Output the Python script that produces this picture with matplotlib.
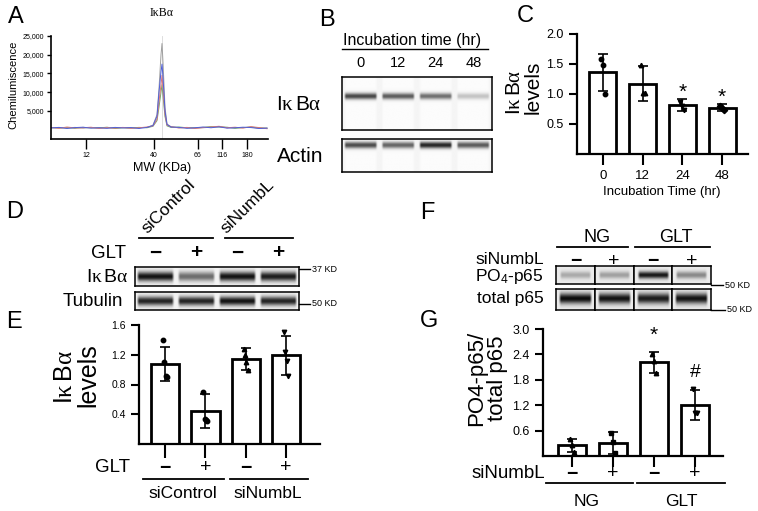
import numpy as np
import matplotlib
matplotlib.use('Agg')
import matplotlib.pyplot as plt

plt.rcParams['font.family'] = ['Liberation Sans', 'DejaVu Sans']
plt.rcParams['mathtext.fontset'] = 'custom'
plt.rcParams['mathtext.rm'] = 'Liberation Sans'
plt.rcParams['mathtext.it'] = 'Liberation Serif'
plt.rcParams['mathtext.bf'] = 'Liberation Sans:bold'

W, H = 758, 511
IKB = r'I$\kappa\,$B$\alpha$'

# ---- A: capillary electropherogram ----
a_pos = [0, 8, 16, 24, 32, 40, 48, 56, 64, 72, 80, 88, 96, 102, 106, 108, 110, 111, 112,
         114, 116, 120, 128, 136, 144, 152, 160, 168, 176, 184, 192, 200, 208, 216]
a_gray = [550, 500, 450, 600, 400, 550, 500, 450, 500, 550, 400, 550, 600, 1200, 4000, 11000, 20000,
          23000, 18000, 6000, 1500, 750, 500, 550, 450, 500, 650, 800, 550, 500, 550, 650, 400, 450]
a_green = [500, 450, 550, 350, 600, 500, 450, 650, 300, 500, 450, 600, 500, 900, 2400, 6000, 10000,
           12000, 9000, 3500, 1000, 600, 700, 500, 450, 600, 800, 700, 650, 350, 550, 700, 450, 350]
a_red = [600, 350, 700, 450, 500, 650, 300, 550, 400, 600, 350, 500, 700, 1000, 2800, 7500, 12000,
         14500, 11000, 4000, 1200, 800, 450, 600, 300, 550, 700, 900, 500, 650, 400, 800, 550, 250]
a_blue = [450, 600, 300, 550, 650, 400, 500, 350, 600, 450, 550, 300, 600, 1100, 3600, 10000, 15500,
          17500, 14000, 5000, 1400, 700, 600, 350, 500, 700, 500, 750, 400, 500, 650, 550, 300, 400]
a_mw_labels = ['12', '40', '66', '116', '180']
a_mw_pos = [35, 103, 147, 171, 196]
a_yticks = [5000, 10000, 15000, 20000, 25000]
a_peak = 111

# ---- B: capillary blots ----
b_times = ['0', '12', '24', '48']
b_ikb = [0.72, 0.64, 0.56, 0.22]
b_actin = [0.70, 0.60, 0.85, 0.64]

# ---- C ----
c_labels = ['0', '12', '24', '48']
c_means = [1.36, 1.17, 0.81, 0.77]
c_sd = [0.31, 0.29, 0.10, 0.06]
c_points = [[1.58, 1.49, 1.00], [1.48, 1.02, 1.02], [0.86, 0.80, 0.73], [0.80, 0.76, 0.73]]
c_markers = ['o', '^', 'v', 'D']
c_stars = ['', '', '*', '*']

# ---- D: western blots ----
d_groups = ['siControl', 'siNumbL']
d_glt = ['\u2212', '+', '\u2212', '+']
d_ikb = [0.92, 0.55, 0.92, 0.88]
d_tub = [0.85, 0.85, 0.92, 0.85]

# ---- E ----
e_means = [1.08, 0.44, 1.14, 1.19]
e_sd = [0.23, 0.23, 0.15, 0.26]
e_points = [[1.40, 1.10, 0.91, 0.90], [0.70, 0.33, 0.32, 0.31],
            [1.28, 1.20, 1.10, 0.99], [1.50, 1.24, 1.12, 0.92]]
e_markers = ['o', 'o', '^', 'v']

# ---- F ----
f_groups = ['NG', 'GLT']
f_sinumbl = ['\u2212', '+', '\u2212', '+']
f_po4 = [0.28, 0.32, 0.90, 0.42]
f_total = [0.95, 0.92, 0.88, 0.92]

# ---- G ----
g_means = [0.25, 0.31, 2.21, 1.21]
g_sd = [0.16, 0.26, 0.25, 0.36]
g_points = [[0.40, 0.25, 0.10], [0.55, 0.32, 0.06], [2.42, 2.24, 1.97], [1.58, 1.02, 1.02]]
g_markers = ['^', 's', '^', 'v']
g_marks = ['', '', '*', '#']

fig = plt.figure(figsize=(W / 100, H / 100), dpi=100)


def box(l, t, r, b):
    return fig.add_axes([l / W, 1 - b / H, (r - l) / W, (b - t) / H])


def txt(x, y, s, **kw):
    kw.setdefault('ha', 'center')
    kw.setdefault('va', 'center')
    fig.text(x / W, 1 - y / H, s, **kw)


def hline(x0, x1, y, lw=1.3):
    fig.add_artist(plt.Line2D([x0 / W, x1 / W], [1 - y / H, 1 - y / H], color='black', lw=lw))


def blot(ax, levels, band_y=0.5, band_h=0.15, fill=0.85, bg=0.96, stripes=False):
    n = len(levels)
    h, w = 80, 80 * n
    yy = np.linspace(0, 1, h)[:, None]
    xx = np.linspace(0, n, w, endpoint=False)[None, :] + 0.5 * n / w
    lane = np.clip(np.floor(xx).astype(int), 0, n - 1)
    frac = xx - lane
    xprof = np.clip((fill / 2 - np.abs(frac - 0.5)) / 0.06, 0, 1)
    yprof = np.exp(-((yy - band_y) / band_h) ** 2)
    amp = np.array(levels)[lane]
    back = np.full((h, w), bg)
    if stripes:
        back = back + 0.025 * xprof - 0.01
    img = back * (1 - amp * xprof * yprof)
    ax.imshow(img, cmap='gray', vmin=0, vmax=1, aspect='auto', interpolation='bilinear',
              extent=[0, n, 1, 0])
    ax.set_xticks([])
    ax.set_yticks([])
    for s in ax.spines.values():
        s.set_linewidth(1.1)


def bars(ax, means, sds, pts, markers, width):
    x = np.arange(len(means))
    ax.bar(x, means, width=width, color='white', edgecolor='black', linewidth=2.0, zorder=2)
    ax.errorbar(x, means, yerr=sds, fmt='none', ecolor='black', elinewidth=1.2,
                capsize=3.5, capthick=1.2, zorder=3)
    for i, (p, m) in enumerate(zip(pts, markers)):
        off = np.linspace(-0.05, 0.05, len(p))
        ax.plot(i + off, p, linestyle='none', marker=m, color='black', markersize=3.2, zorder=4)
    for side in ['top', 'right']:
        ax.spines[side].set_visible(False)
    for side in ['left', 'bottom']:
        ax.spines[side].set_linewidth(1.6)
    ax.tick_params(width=1.5, length=6)


# panel letters
for lab, (x, y) in zip('ABCDEFG', [(16, 17), (327, 20), (525, 16), (15, 212), (14, 322), (427, 213), (429, 321)]):
    txt(x, y, lab, fontsize=17)

# ---------- A ----------
axA = box(51, 36, 268, 139)
axA.axvline(a_peak, color='#d8d8d8', lw=0.6, zorder=0)
for vals, col in zip([a_gray, a_green, a_red, a_blue], ['#a0a0a0', '#70a870', '#e07878', '#5060d8']):
    axA.plot(a_pos, vals, color=col, lw=0.7)
axA.set_xlim(0, 217)
axA.set_ylim(-2500, 25000)
axA.set_xticks(a_mw_pos)
axA.set_xticklabels(a_mw_labels, fontsize=5)
axA.set_yticks(a_yticks)
axA.set_yticklabels(['{:,}'.format(v) for v in a_yticks], fontsize=5)
for side in ['top', 'right']:
    axA.spines[side].set_visible(False)
for side in ['left', 'bottom']:
    axA.spines[side].set_linewidth(1.2)
axA.tick_params(axis='x', length=7, width=1.0, pad=2)
axA.tick_params(axis='y', length=3, width=1.0, pad=2)
txt(162, 13, '\u0049\u03ba\u0042\u03b1', fontsize=8.5, family='Liberation Serif')
txt(162, 168, 'MW (KDa)', fontsize=9)
txt(13, 85, 'Chemilumiscence', fontsize=8, rotation=90)

# ---------- B ----------
txt(412, 40, 'Incubation time (hr)', fontsize=11.5)
hline(342, 488, 49, lw=1.0)
for i, t in enumerate(b_times):
    txt(342 + 150 * (i + 0.5) / 4, 63, t, fontsize=10.5)
axB1 = box(342, 77, 492, 130)
blot(axB1, b_ikb, band_y=0.36, band_h=0.06, fill=0.9, bg=0.97, stripes=True)
axB2 = box(342, 139, 492, 172)
blot(axB2, b_actin, band_y=0.18, band_h=0.1, fill=0.9, bg=0.97, stripes=True)
txt(299, 104, IKB, fontsize=15)
txt(300, 157, 'Actin', fontsize=15)

# ---------- C ----------
axC = box(577, 34, 748, 154)
bars(axC, c_means, c_sd, c_points, c_markers, 0.68)
axC.set_xlim(-0.655, 3.655)
axC.set_ylim(0, 2.0)
axC.set_yticks([0.5, 1.0, 1.5, 2.0])
axC.set_yticklabels(['0.5', '1.0', '1.5', '2.0'], fontsize=9)
axC.set_xticks(range(4))
axC.set_xticklabels(c_labels, fontsize=9.5)
axC.tick_params(axis='x', length=8)
for i, s in enumerate(c_stars):
    if s:
        axC.text(i, c_means[i] + c_sd[i] + 0.12, s, ha='center', va='center', fontsize=15)
txt(662, 192, 'Incubation Time (hr)', fontsize=9.5)
txt(515, 92, IKB, fontsize=15, rotation=90)
txt(533, 87, 'levels', fontsize=15, rotation=90)

# ---------- D ----------
lane_d = [135 + 164 * (i + 0.5) / 4 for i in range(4)]
for (x0, x1), g, ax0 in zip([(139, 213), (225, 293)], d_groups, [150, 229]):
    hline(x0, x1, 238)
    fig.text(ax0 / W, 1 - 236 / H, g, rotation=45, rotation_mode='anchor',
             ha='left', va='bottom', fontsize=12.5)
txt(108, 253, 'GLT', fontsize=13.5)
for x, s in zip(lane_d, d_glt):
    txt(x, 253, s, fontsize=15, fontweight='bold')
axD1 = box(135, 267, 299, 286)
blot(axD1, d_ikb, band_y=0.5, band_h=0.25, fill=0.92, bg=0.95)
axD2 = box(135, 292, 299, 310)
blot(axD2, d_tub, band_y=0.5, band_h=0.25, fill=0.92, bg=0.95)
txt(107, 277, IKB, fontsize=14)
txt(93, 301, 'Tubulin', fontsize=13.5)
hline(299, 310, 269, lw=1.0)
txt(312, 269, '37 KD', fontsize=6.5, ha='left')
hline(299, 310, 304, lw=1.0)
txt(312, 304, '50 KD', fontsize=6.5, ha='left')

# ---------- E ----------
axE = box(139, 325, 320, 444)
bars(axE, e_means, e_sd, e_points, e_markers, 0.7)
axE.set_xlim(-0.645, 3.84)
axE.set_ylim(0, 1.6)
axE.set_yticks([0.4, 0.8, 1.2, 1.6])
axE.set_yticklabels(['0.4', '0.8', '1.2', '1.6'], fontsize=7.5)
axE.set_xticks(range(4))
axE.set_xticklabels([])
axE.tick_params(axis='x', length=10)
txt(113, 468, 'GLT', fontsize=13.5)
lane_e = [165 + 40.3 * i for i in range(4)]
for x, s in zip(lane_e, d_glt):
    txt(x, 468, s, fontsize=14, fontweight='bold' if s != '+' else 'normal')
hline(143, 224, 479)
hline(230, 308, 479)
txt(183, 494, d_groups[0], fontsize=12.5)
txt(268, 494, d_groups[1], fontsize=12.5)
txt(65, 377, IKB, fontsize=18, rotation=90)
txt(88, 375, 'levels', fontsize=18, rotation=90)

# ---------- F ----------
txt(597, 237, f_groups[0], fontsize=13)
txt(676, 237, f_groups[1], fontsize=13)
hline(557, 628, 247)
hline(635, 710, 247)
txt(510, 260, 'siNumbL', fontsize=12.5)
lw_f = (711 - 556) / 4
for i, s in enumerate(f_sinumbl):
    x = 556 + lw_f * (i + 0.5)
    txt(x, 261, s, fontsize=14, fontweight='bold' if s != '+' else 'normal')
    a1 = box(556 + lw_f * i, 266, 556 + lw_f * (i + 1), 284)
    blot(a1, [f_po4[i]], band_y=0.5, band_h=0.2, fill=0.82, bg=0.92)
    a2 = box(556 + lw_f * i, 289, 556 + lw_f * (i + 1), 310)
    blot(a2, [f_total[i]], band_y=0.45, band_h=0.25, fill=0.86, bg=0.92)
txt(509, 276, r'PO$_4$-p65', fontsize=12.5)
txt(510, 298, 'total p65', fontsize=12.5)
hline(711, 723, 285, lw=1.0)
txt(725, 285, '50 KD', fontsize=6.5, ha='left')
hline(711, 725, 310, lw=1.0)
txt(727, 310, '50 KD', fontsize=6.5, ha='left')

# ---------- G ----------
axG = box(543, 329, 723, 456)
bars(axG, g_means, g_sd, g_points, g_markers, 0.68)
axG.set_xlim(-0.707, 3.68)
axG.set_ylim(0, 3.0)
axG.set_yticks([0.6, 1.2, 1.8, 2.4, 3.0])
axG.set_yticklabels(['0.6', '1.2', '1.8', '2.4', '3.0'], fontsize=9)
axG.set_xticks(range(4))
axG.set_xticklabels([])
axG.tick_params(axis='x', length=8)
for i, s in enumerate(g_marks):
    if s:
        axG.text(i, g_means[i] + g_sd[i] + 0.40, s, ha='center', va='center',
                 fontsize=15 if s == '*' else 14)
txt(508, 474, 'siNumbL', fontsize=13.5)
lane_g = [572 + 41 * i for i in range(4)]
for x, s in zip(lane_g, f_sinumbl):
    txt(x, 474, s, fontsize=14, fontweight='bold' if s != '+' else 'normal')
hline(546, 633, 483)
hline(637, 725, 483)
txt(587, 501, f_groups[0], fontsize=12.5)
txt(681, 501, f_groups[1], fontsize=12.5)
txt(477, 378, 'PO4-p65/', fontsize=16, rotation=90)
txt(497, 378, 'total p65', fontsize=16, rotation=90)

fig.savefig('out.png', dpi=100)
